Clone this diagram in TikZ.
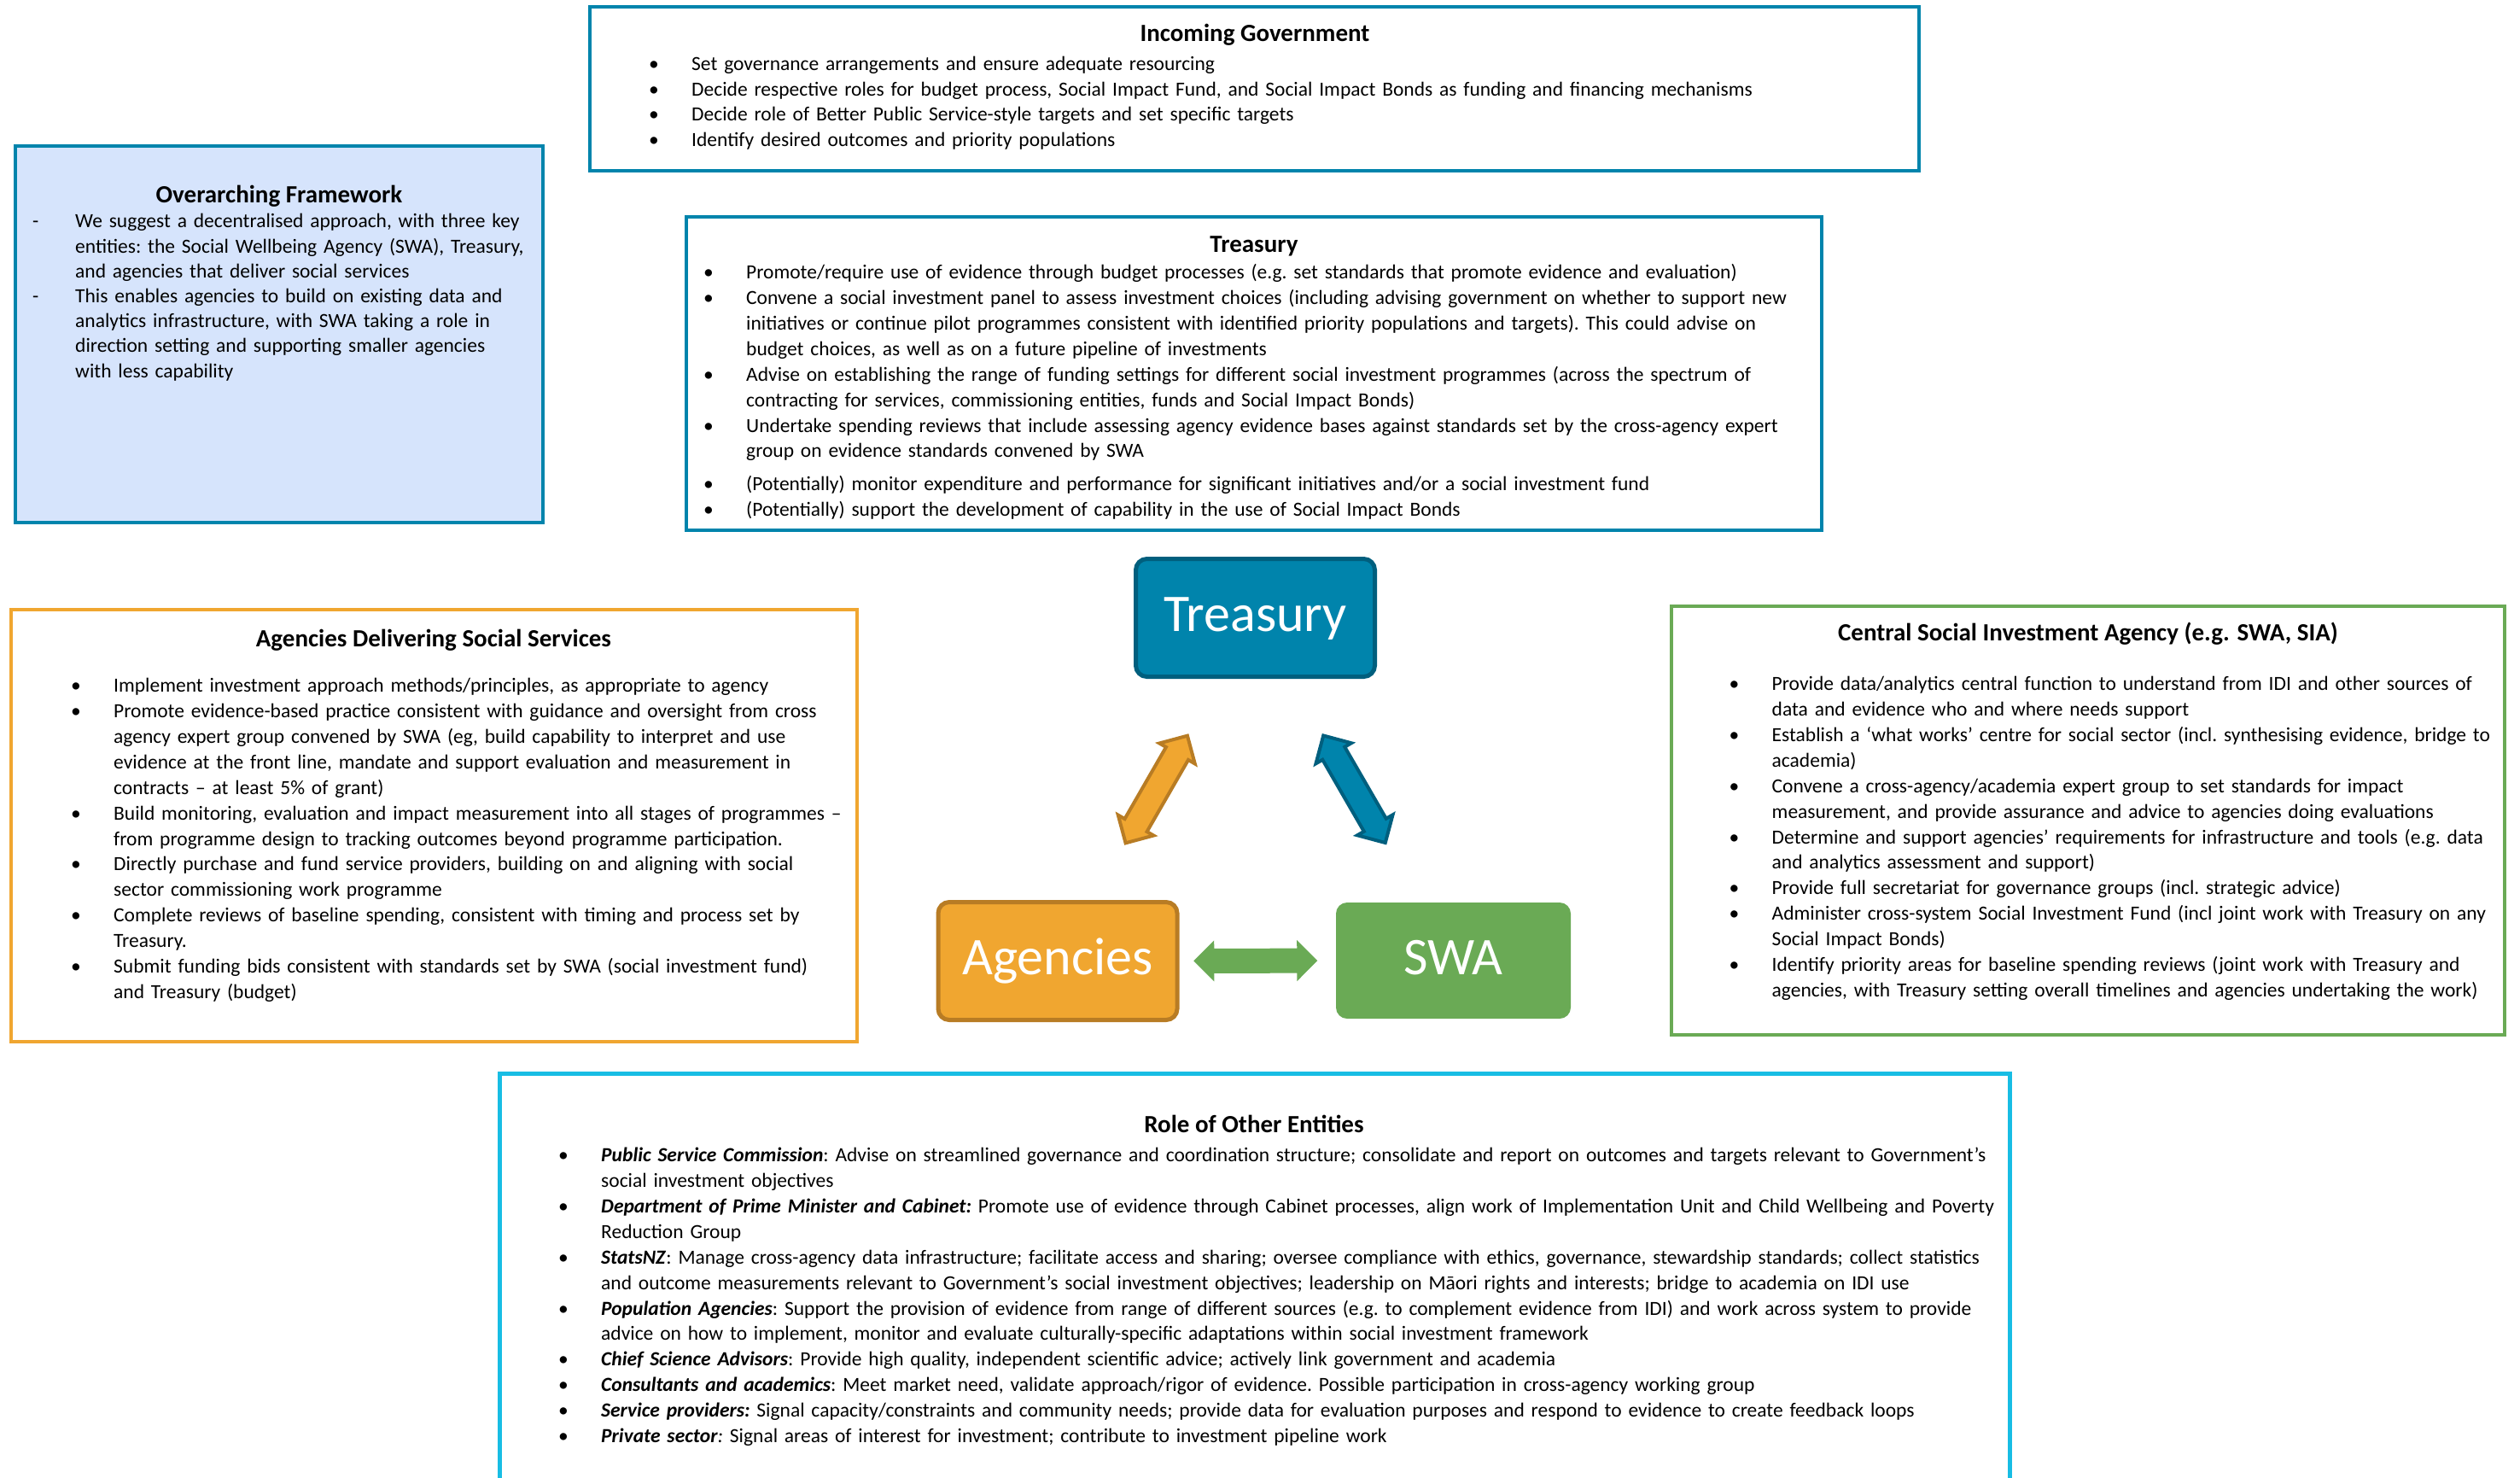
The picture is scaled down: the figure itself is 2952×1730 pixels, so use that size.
\documentclass[tikz,border=0pt]{standalone}
\usepackage{fontspec}
\setmainfont{Carlito}
\usetikzlibrary{shapes.arrows}

\definecolor{govteal}{RGB}{0,132,172}
\definecolor{govtealdark}{RGB}{0,95,126}
\definecolor{framefill}{RGB}{214,228,252}
\definecolor{agyorange}{RGB}{240,166,48}
\definecolor{agyorangedark}{RGB}{184,124,36}
\definecolor{swagreen}{RGB}{106,170,85}
\definecolor{othercyan}{RGB}{24,189,228}

\newcommand{\bodyfont}{\fontsize{23.5}{29.9}\selectfont\frenchspacing\hyphenpenalty=10000\exhyphenpenalty=10000}
\newcommand{\titlefont}{\fontsize{29}{35}\selectfont\bfseries}
\newcommand{\bitem}[2][\textbullet]{\par\hangindent=50pt\hangafter=1\noindent\makebox[50pt][l]{#1}\strut#2\strut\par}
\newcommand{\brk}{\unskip\hfil\break}
\newcommand{\entity}[1]{\textbf{\textit{#1}}}

\begin{document}
\begin{tikzpicture}[x=1pt, y=-1pt,
		titletext/.style={anchor=base, inner sep=0pt, font=\titlefont},
		bodytext/.style={anchor=north west, inner sep=0pt, align=left, font=\bodyfont},
		framebox/.style={line width=4.5pt},
		keynode/.style={rectangle, rounded corners=13pt, minimum width=280pt, minimum height=138pt,
			line width=5pt, inner sep=0pt, text height=44pt, text depth=12pt, text=white,
			font=\fontsize{62}{74}\selectfont},
		linkarrow/.style={double arrow, sloped, inner xsep=0pt, inner ysep=13pt, line width=4pt,
			double arrow head extend=9pt, minimum height=145pt}]
		\path[use as bounding box, fill=white] (0, 0) rectangle (2952, 1730);
		% Incoming government.
		\draw[framebox, draw=govteal] (691, 8) rectangle (2248, 200);
		\node[titletext] (govtitle) at (1470, 48) {Incoming Government};
		\node[bodytext, text width=1470pt] (govlist) at (760, 52) {
			\bitem{Set governance arrangements and ensure adequate resourcing}
			\bitem{Decide respective roles for budget process, Social Impact Fund, and Social Impact Bonds as funding and financing mechanisms}
			\bitem{Decide role of Better Public Service-style targets and set specific targets}
			\bitem{Identify desired outcomes and priority populations}
		};
		% Overarching framework.
		\draw[framebox, draw=govteal, fill=framefill] (18, 171) rectangle (636, 612);
		\node[titletext] (fwtitle) at (327, 237) {Overarching Framework};
		\node[bodytext, text width=620pt, font=\bodyfont\fontsize{23.5}{29.2}\selectfont] (fwlist) at (38, 237.5) {
			\bitem[-]{We suggest a decentralised approach, with three key\brk entities: the Social Wellbeing Agency (SWA), Treasury,\brk and agencies that deliver social services}
			\bitem[-]{This enables agencies to build on existing data and\brk analytics infrastructure, with SWA taking a role in\brk direction setting and supporting smaller agencies\brk with less capability}
		};
		% Treasury roles.
		\draw[framebox, draw=govteal] (804, 254) rectangle (2134, 621);
		\node[titletext] (trtitle) at (1469, 295) {Treasury};
		\node[bodytext, text width=1330pt] (trlist) at (824, 296.5) {
			\bitem{Promote/require use of evidence through budget processes (e.g. set standards that promote evidence and evaluation)}
			\bitem{Convene a social investment panel to assess investment choices (including advising government on whether to support new\brk initiatives or continue pilot programmes consistent with identified priority populations and targets). This could advise on\brk budget choices, as well as on a future pipeline of investments}
			\bitem{Advise on establishing the range of funding settings for different social investment programmes (across the spectrum of\brk contracting for services, commissioning entities, funds and Social Impact Bonds)}
			\bitem{Undertake spending reviews that include assessing agency evidence bases against standards set by the cross-agency expert\brk group on evidence standards convened by SWA}
			\vspace{9pt}
			\bitem{(Potentially) monitor expenditure and performance for significant initiatives and/or a social investment fund}
			\bitem{(Potentially) support the development of capability in the use of Social Impact Bonds}
		};
		% Agencies delivering social services.
		\draw[framebox, draw=agyorange] (13, 714) rectangle (1004, 1220);
		\node[titletext] (agtitle) at (508, 757.5) {Agencies Delivering Social Services};
		\node[bodytext, text width=950pt] (aglist) at (83, 780.5) {
			\bitem{Implement investment approach methods/principles, as appropriate to agency}
			\bitem{Promote evidence-based practice consistent with guidance and oversight from cross\brk agency expert group convened by SWA (eg, build capability to interpret and use\brk evidence at the front line, mandate and support evaluation and measurement in\brk contracts – at least 5\% of grant)}
			\bitem{Build monitoring, evaluation and impact measurement into all stages of programmes –\brk from programme design to tracking outcomes beyond programme participation.}
			\bitem{Directly purchase and fund service providers, building on and aligning with social\brk sector commissioning work programme}
			\bitem{Complete reviews of baseline spending, consistent with timing and process set by\brk Treasury.}
			\bitem{Submit funding bids consistent with standards set by SWA (social investment fund)\brk and Treasury (budget)}
		};
		% Central social investment agency.
		\draw[framebox, draw=swagreen] (1958, 710) rectangle (2934, 1212);
		\node[titletext] (sititle) at (2446, 750.5) {Central Social Investment Agency (e.g. SWA, SIA)};
		\node[bodytext, text width=930pt] (silist) at (2025.5, 778.5) {
			\bitem{Provide data/analytics central function to understand from IDI and other sources of\brk data and evidence who and where needs support}
			\bitem{Establish a ‘what works’ centre for social sector (incl. synthesising evidence, bridge to\brk academia)}
			\bitem{Convene a cross-agency/academia expert group to set standards for impact\brk measurement, and provide assurance and advice to agencies doing evaluations}
			\bitem{Determine and support agencies’ requirements for infrastructure and tools (e.g. data\brk and analytics assessment and support)}
			\bitem{Provide full secretariat for governance groups (incl. strategic advice)}
			\bitem{Administer cross-system Social Investment Fund (incl joint work with Treasury on any\brk Social Impact Bonds)}
			\bitem{Identify priority areas for baseline spending reviews (joint work with Treasury and\brk agencies, with Treasury setting overall timelines and agencies undertaking the work)}
		};
		% Other entities (box runs off the bottom edge).
		\draw[framebox, draw=othercyan, line width=5pt] (585, 1800) -- (585, 1257) -- (2354, 1257) -- (2354, 1800);
		\node[titletext] (ottitle) at (1469, 1326.5) {Role of Other Entities};
		\node[bodytext, text width=1720pt] (otlist) at (654, 1330.5) {
			\bitem{\entity{Public Service Commission}: Advise on streamlined governance and coordination structure; consolidate and report on outcomes and targets relevant to Government’s\brk social investment objectives}
			\bitem{\entity{Department of Prime Minister and Cabinet:} Promote use of evidence through Cabinet processes, align work of Implementation Unit and Child Wellbeing and Poverty\brk Reduction Group}
			\bitem{\entity{StatsNZ}: Manage cross-agency data infrastructure; facilitate access and sharing; oversee compliance with ethics, governance, stewardship standards; collect statistics\brk and outcome measurements relevant to Government’s social investment objectives; leadership on Māori rights and interests; bridge to academia on IDI use}
			\bitem{\entity{Population Agencies}: Support the provision of evidence from range of different sources (e.g. to complement evidence from IDI) and work across system to provide\brk advice on how to implement, monitor and evaluate culturally-specific adaptations within social investment framework}
			\bitem{\entity{Chief Science Advisors}: Provide high quality, independent scientific advice; actively link government and academia}
			\bitem{\entity{Consultants and academics}: Meet market need, validate approach/rigor of evidence. Possible participation in cross-agency working group}
			\bitem{\entity{Service providers:} Signal capacity/constraints and community needs; provide data for evaluation purposes and respond to evidence to create feedback loops}
			\bitem{\entity{Private sector}\textit{:} Signal areas of interest for investment; contribute to investment pipeline work}
		};
		% Key entities and the links between them.
		\node[keynode, fill=govteal, draw=govtealdark] (treas) at (1470.5, 723.5) {Treasury};
		\node[keynode, fill=agyorange, draw=agyorangedark] (agen) at (1239, 1125.5) {Agencies};
		\node[keynode, fill=swagreen, minimum width=275pt, minimum height=136pt] (swa) at (1702.5, 1125) {SWA};
		\path (agen.center) -- node[linkarrow, fill=agyorange, draw=agyorangedark] (linkat) {} (treas.center);
		\path (treas.center) -- node[linkarrow, fill=govteal, draw=govtealdark] (linkts) {} (swa.center);
		\path (agen.center) -- node[linkarrow, fill=swagreen, line width=0pt, inner ysep=14.5pt,
			double arrow head extend=9.5pt] (linkas) {} (swa.center);
	\end{tikzpicture}
\end{document}
